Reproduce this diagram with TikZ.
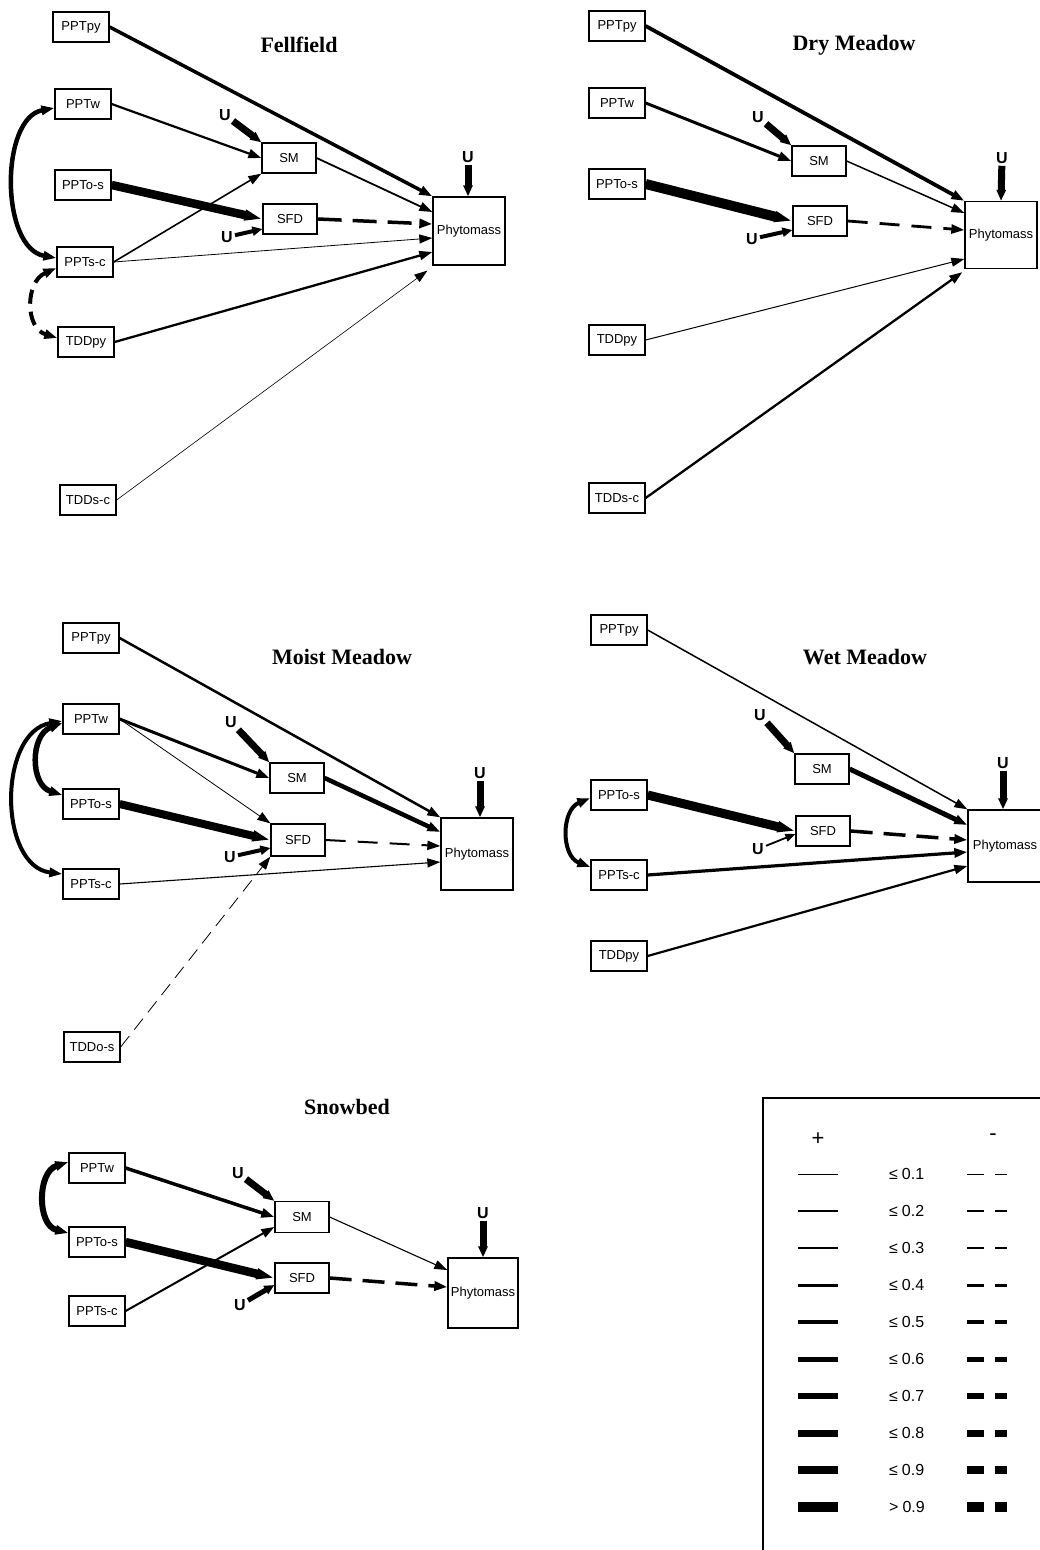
\documentclass[tikz,border=0pt]{standalone}
\usepackage{fontspec}
\setmainfont{Liberation Sans}
\newfontfamily\titlefont{Liberation Serif}
\usetikzlibrary{arrows.meta}
\begin{document}
\begin{tikzpicture}[x=1pt,y=-1pt,
 bx/.style={draw, line width=1.3pt, minimum width=56pt, minimum height=30pt, inner sep=0pt, font=\fontsize{13}{15}\selectfont},
 sbx/.style={bx, minimum width=54pt},
 phb/.style={bx, minimum width=72pt, minimum height=68pt},
 ttl/.style={font=\titlefont\bfseries\fontsize{22}{24}\selectfont},
 ulab/.style={font=\bfseries\fontsize{16}{16}\selectfont, inner sep=2pt},
 ar/.style={-{Triangle[length=13pt,width=9pt]}},
 arr/.style={{Triangle[length=13pt,width=9pt]}-{Triangle[length=13pt,width=9pt]}},
 fat/.style={line width=8.5pt, -{Triangle[length=18pt,width=10pt]}},
 uar/.style={line width=7pt, -{Triangle[length=11pt,width=9pt]}},
 uarb/.style={line width=4pt, -{Triangle[length=10pt,width=9pt]}},
 uarc/.style={line width=1.8pt, -{Triangle[length=10pt,width=8pt]}},
 legtxt/.style={font=\fontsize{16}{18}\selectfont, inner sep=0pt}
]
\useasboundingbox (0,0) rectangle (1039,1550);

% ================= Fellfield =================
\node[ttl] (A-t) at (299,45) {Fellfield};
\node[bx] (A-py) at (81,27) {PPTpy};
\node[bx] (A-w) at (83,104) {PPTw};
\node[bx] (A-os) at (83,185) {PPTo-s};
\node[bx] (A-sc) at (85,262) {PPTs-c};
\node[bx] (A-tpy) at (86,342) {TDDpy};
\node[bx] (A-tsc) at (88,500) {TDDs-c};
\node[sbx] (A-sm) at (289,158) {SM};
\node[sbx] (A-sfd) at (290,219) {SFD};
\node[phb] (A-ph) at (469,231) {Phytomass};
\node[ulab] (A-u1) at (225,115) {U};
\node[ulab] (A-u2) at (227,237) {U};
\node[ulab] (A-u3) at (468,157) {U};
\draw[uar] (A-u1) -- (A-sm.north west);
\draw[uarb] (A-u2) -- ([yshift=-10pt]A-sfd.west);
\draw[uar] (A-u3) -- ([xshift=-1pt]A-ph.north);
\draw[ar, line width=3.5pt] (A-py.east) -- (A-ph.north west);
\draw[ar, line width=2.2pt] (A-w.east) -- (A-sm.west);
\draw[ar, line width=1.6pt] (A-sc.east) -- (A-sm.south west);
\draw[fat] (A-os.east) -- (A-sfd.west);
\draw[ar, line width=0.8pt] (A-sc.east) -- ([yshift=-7pt]A-ph.west);
\draw[ar, line width=1.8pt] (A-sm.east) -- ([yshift=19pt]A-ph.west);
\draw[ar, line width=3.5pt, dash pattern=on 24pt off 11pt] (A-sfd.east) -- ([yshift=7pt]A-ph.west);
\draw[ar, line width=2.3pt] (A-tpy.east) -- ([yshift=-21pt]A-ph.west);
\draw[ar, line width=0.6pt] (A-tsc.east) -- ([xshift=-5pt,yshift=-5pt]A-ph.south west);
\draw[arr, line width=4.5pt] ([yshift=-4pt]A-w.west) .. controls (0,118) and (0,248) .. ([yshift=4pt]A-sc.west);
\draw[arr, line width=4pt, dash pattern=on 14pt off 8pt] ([yshift=-6pt]A-sc.west) .. controls (25,282) and (25,328) .. ([yshift=4pt]A-tpy.west);

% ================= Dry Meadow =================
\node[ttl] (B-t) at (854,45) {Dry Meadow};
\node[bx] (B-py) at (617,26) {PPTpy};
\node[bx] (B-w) at (617,103) {PPTw};
\node[bx] (B-os) at (617,184) {PPTo-s};
\node[bx] (B-tpy) at (617,340) {TDDpy};
\node[bx] (B-tsc) at (617,498) {TDDs-c};
\node[sbx] (B-sm) at (819,161) {SM};
\node[sbx] (B-sfd) at (820,221) {SFD};
\node[phb, minimum height=67pt] (B-ph) at (1001,235) {Phytomass};
\node[ulab] (B-u1) at (758,117) {U};
\node[ulab] (B-u2) at (752,239) {U};
\node[ulab] (B-u3) at (1002,158) {U};
\draw[uar] (B-u1) -- (B-sm.north west);
\draw[uarb] (B-u2) -- ([yshift=-9pt]B-sfd.west);
\draw[uar] (B-u3) -- (B-ph.north);
\draw[ar, line width=3.8pt] (B-py.east) -- (B-ph.north west);
\draw[ar, line width=3pt] (B-w.east) -- (B-sm.west);
\draw[fat, line width=10pt] (B-os.east) -- (B-sfd.west);
\draw[ar, line width=1.5pt] (B-sm.east) -- ([yshift=22pt]B-ph.west);
\draw[ar, line width=2.8pt, dash pattern=on 20pt off 12pt] (B-sfd.east) -- ([yshift=5pt]B-ph.west);
\draw[ar, line width=1pt] (B-tpy.east) -- ([yshift=-24pt]B-ph.west);
\draw[ar, line width=2.3pt] (B-tsc.east) -- ([xshift=-2pt,yshift=-3pt]B-ph.south west);

% ================= Moist Meadow =================
\node[ttl] (C-t) at (342,657) {Moist Meadow};
\node[bx] (C-py) at (91,638) {PPTpy};
\node[bx] (C-w) at (91,719) {PPTw};
\node[bx] (C-os) at (91,804) {PPTo-s};
\node[bx] (C-sc) at (91,884) {PPTs-c};
\node[bx] (C-tos) at (92,1047) {TDDo-s};
\node[sbx] (C-sm) at (297,778) {SM};
\node[sbx, minimum height=32pt] (C-sfd) at (298,840) {SFD};
\node[phb, minimum height=72pt] (C-ph) at (477,854) {Phytomass};
\node[ulab] (C-u1) at (231,722) {U};
\node[ulab] (C-u2) at (230,857) {U};
\node[ulab] (C-u3) at (480,773) {U};
\draw[uar] (C-u1) -- (C-sm.north west);
\draw[uarb] (C-u2) -- ([yshift=-8pt]C-sfd.west);
\draw[uar] (C-u3) -- ([xshift=3pt]C-ph.north);
\draw[ar, line width=2.5pt] (C-py.east) -- (C-ph.north west);
\draw[ar, line width=3pt] (C-w.east) -- (C-sm.west);
\draw[ar, line width=0.8pt] (C-w.east) -- (C-sfd.north west);
\draw[fat, line width=8pt] (C-os.east) -- (C-sfd.west);
\draw[ar, line width=4.5pt] (C-sm.east) -- ([yshift=22pt]C-ph.west);
\draw[ar, line width=2pt, dash pattern=on 20pt off 12pt] (C-sfd.east) -- ([yshift=8pt]C-ph.west);
\draw[ar, line width=1.1pt] (C-sc.east) -- ([yshift=-8pt]C-ph.west);
\draw[ar, line width=0.8pt, dash pattern=on 14pt off 8pt] (C-tos.east) -- (C-sfd.south west);
\draw[arr, line width=5.5pt] ([yshift=-4pt]C-w.west) .. controls (30,735) and (30,785) .. ([yshift=9pt]C-os.west);
\draw[arr, line width=4pt] ([yshift=-2pt]C-w.west) .. controls (-2,732) and (-2,866) .. ([yshift=10pt]C-sc.west);

% ================= Wet Meadow =================
\node[ttl] (D-t) at (865,657) {Wet Meadow};
\node[bx] (D-py) at (619,630) {PPTpy};
\node[bx] (D-os) at (619,795) {PPTo-s};
\node[bx] (D-sc) at (619,875) {PPTs-c};
\node[bx] (D-tpy) at (619,956) {TDDpy};
\node[sbx] (D-sm) at (822,769) {SM};
\node[sbx] (D-sfd) at (823,831) {SFD};
\node[phb, minimum width=74pt, minimum height=72pt] (D-ph) at (1005,846) {Phytomass};
\node[ulab] (D-u1) at (760,715) {U};
\node[ulab] (D-u2) at (758,849) {U};
\node[ulab] (D-u3) at (1003,763) {U};
\draw[uar] (D-u1) -- (D-sm.north west);
\draw[uarc] (D-u2) -- ([yshift=-3pt]D-sfd.west);
\draw[uar] (D-u3) -- ([xshift=-2pt]D-ph.north);
\draw[ar, line width=1.5pt] (D-py.east) -- (D-ph.north west);
\draw[ar, line width=5pt] (D-sm.east) -- ([yshift=21pt]D-ph.west);
\draw[fat, line width=9pt] (D-os.east) -- (D-sfd.west);
\draw[ar, line width=3.5pt, dash pattern=on 22pt off 11pt] (D-sfd.east) -- ([yshift=6pt]D-ph.west);
\draw[ar, line width=3.2pt] (D-sc.east) -- ([yshift=-6pt]D-ph.west);
\draw[ar, line width=2.2pt] (D-tpy.east) -- ([yshift=-20pt]D-ph.west);
\draw[arr, line width=4pt] ([yshift=-3pt]D-os.west) .. controls (561,810) and (561,856) .. ([yshift=8pt]D-sc.west);

% ================= Snowbed =================
\node[ttl] (E-t) at (347,1107) {Snowbed};
\node[bx] (E-w) at (97,1168) {PPTw};
\node[bx] (E-os) at (97,1242) {PPTo-s};
\node[bx] (E-sc) at (97,1311) {PPTs-c};
\node[sbx, minimum height=31pt] (E-sm) at (302,1217) {SM};
\node[sbx] (E-sfd) at (302,1278) {SFD};
\node[phb, minimum width=70pt, minimum height=70pt] (E-ph) at (483,1293) {Phytomass};
\node[ulab] (E-u1) at (238,1173) {U};
\node[ulab] (E-u2) at (240,1305) {U};
\node[ulab] (E-u3) at (483,1213) {U};
\draw[uar] (E-u1) -- (E-sm.north west);
\draw[uarb, line width=5pt] (E-u2) -- ([yshift=-7pt]E-sfd.west);
\draw[uar] (E-u3) -- (E-ph.north);
\draw[ar, line width=3.5pt] (E-w.east) -- (E-sm.west);
\draw[fat] (E-os.east) -- (E-sfd.west);
\draw[ar, line width=2pt] (E-sc.east) -- ([yshift=-10pt]E-sm.west);
\draw[ar, line width=1.1pt] (E-sm.east) -- ([yshift=23pt]E-ph.west);
\draw[ar, line width=3.5pt, dash pattern=on 22pt off 11pt] (E-sfd.east) -- ([yshift=6pt]E-ph.west);
\draw[arr, line width=6pt] ([yshift=6pt]E-w.west) .. controls (37,1172) and (37,1225) .. ([yshift=9pt]E-os.west);

% ================= Legend =================
\draw[line width=1.2pt] (1045,1098) -- (763,1098) -- (763,1560);
\node[legtxt, font=\fontsize{22}{22}\selectfont] (L-plus) at (818,1139) {+};
\node[legtxt, font=\fontsize{22}{22}\selectfont] (L-minus) at (993,1137) {-};
\foreach \lab/\w [count=\i] in {≤\hspace{4pt}0.1/1,≤\hspace{4pt}0.2/1.6,≤\hspace{4pt}0.3/2.2,≤\hspace{4pt}0.4/3,≤\hspace{4pt}0.5/4,≤\hspace{4pt}0.6/5,≤\hspace{4pt}0.7/6,≤\hspace{4pt}0.8/7,≤\hspace{4pt}0.9/8.5,>\hspace{4pt}0.9/10}{
  \pgfmathsetmacro\yy{1137+37*\i}
  \draw[line width=\w*1pt] (798,\yy) -- (838,\yy);
  \draw[line width=\w*1pt] (967,\yy) -- (984,\yy) (995,\yy) -- (1007,\yy);
  \node[legtxt, anchor=west] (L-\i) at (889,\yy) {\lab};
}
\end{tikzpicture}
\end{document}
